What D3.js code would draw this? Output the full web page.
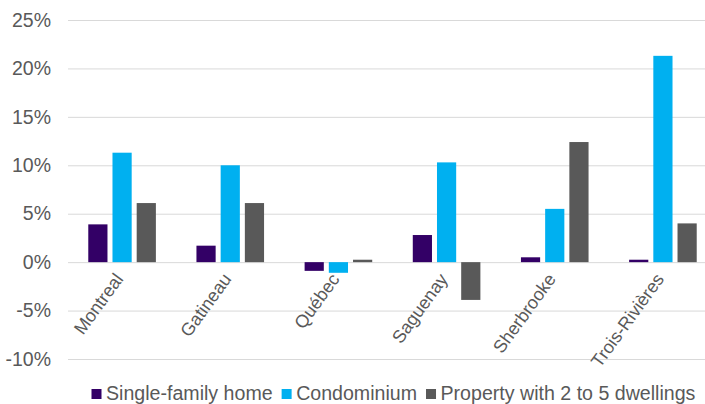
<!DOCTYPE html>
<html>
<head>
<meta charset="utf-8">
<script src="https://cdn.jsdelivr.net/npm/d3@7"></script>
<style>
  html, body { margin: 0; padding: 0; background: #fff; }
  svg { display: block; font-family: "Liberation Sans", Arial, sans-serif; }
</style>
</head>
<body>
<svg id="chart" width="705" height="404"></svg>
<script>
// Year-over-year price change by city and property type
const cities = ["Montreal", "Gatineau", "Québec", "Saguenay", "Sherbrooke", "Trois-Rivières"];
const seriesNames = ["Single-family home", "Condominium", "Property with 2 to 5 dwellings"];
const singleFamily = [3.9, 1.7, -0.9, 2.8, 0.5, 0.25];
const condominium = [11.3, 10.0, -1.1, 10.3, 5.5, 21.3];
const plexes = [6.1, 6.1, 0.25, -3.9, 12.4, 4.0];
const seriesColors = ["#330066", "#00B0F0", "#595959"];
const yTicks = [-10, -5, 0, 5, 10, 15, 20, 25];

const seriesValues = [singleFamily, condominium, plexes];
const rows = cities.map((c, i) => ({
  city: c,
  values: seriesNames.map((s, k) => ({ series: s, value: seriesValues[k][i] }))
}));

const svg = d3.select("#chart");
const plot = { left: 68, right: 717, top: 20, bottom: 359 };

const x0 = d3.scaleBand().domain(cities).range([plot.left, plot.right]).padding(0);
const groupW = x0.bandwidth() * 0.625;
const x1 = d3.scaleBand().domain(seriesNames).range([0, groupW]).paddingInner(0.207);
const y = d3.scaleLinear().domain([-10, 25]).range([plot.bottom, plot.top]);
const color = d3.scaleOrdinal().domain(seriesNames).range(seriesColors);

// Horizontal gridlines and percentage labels
const yAxis = d3.axisLeft(y)
  .tickValues(yTicks)
  .tickSize(-(plot.right - plot.left))
  .tickPadding(17)
  .tickFormat(d => d + "%");

const gy = svg.append("g")
  .attr("transform", `translate(${plot.left},0)`)
  .call(yAxis);
gy.select(".domain").remove();
gy.selectAll(".tick line").attr("stroke", "#d9d9d9").attr("stroke-width", 1);
gy.selectAll(".tick text")
  .attr("fill", "#595959")
  .style("font-size", "19.5px");

// Bars
const groups = svg.append("g").selectAll("g")
  .data(rows)
  .join("g")
  .attr("transform", d => `translate(${x0(d.city) + (x0.bandwidth() - groupW) / 2},0)`);

groups.selectAll("rect")
  .data(d => d.values)
  .join("rect")
  .attr("x", d => x1(d.series))
  .attr("width", x1.bandwidth())
  .attr("y", d => y(Math.max(0, d.value)))
  .attr("height", d => Math.abs(y(d.value) - y(0)))
  .attr("fill", d => color(d.series));

// Rotated city labels
const xAxis = d3.axisBottom(x0).tickSize(0).tickPadding(0);
const gx = svg.append("g")
  .attr("transform", `translate(0,${y(0)})`)
  .call(xAxis);
gx.select(".domain").remove();
gx.selectAll(".tick text")
  .attr("fill", "#595959")
  .style("font-size", "18px")
  .attr("text-anchor", "end")
  .attr("dy", 0)
  .attr("y", 0)
  .attr("transform", "translate(2,17) rotate(-54)");

// Legend
const legend = svg.append("g").attr("transform", "translate(91.5,400)");
let lx = 0;
seriesNames.forEach(name => {
  const item = legend.append("g").attr("transform", `translate(${lx},0)`);
  item.append("rect")
    .attr("x", 0).attr("y", -11)
    .attr("width", 10).attr("height", 10)
    .attr("fill", color(name));
  const t = item.append("text")
    .attr("x", 14.5).attr("y", 0)
    .attr("fill", "#595959")
    .style("font-size", "19.6px")
    .text(name);
  lx += 14.5 + t.node().getComputedTextLength() + 9;
});
</script>
</body>
</html>
